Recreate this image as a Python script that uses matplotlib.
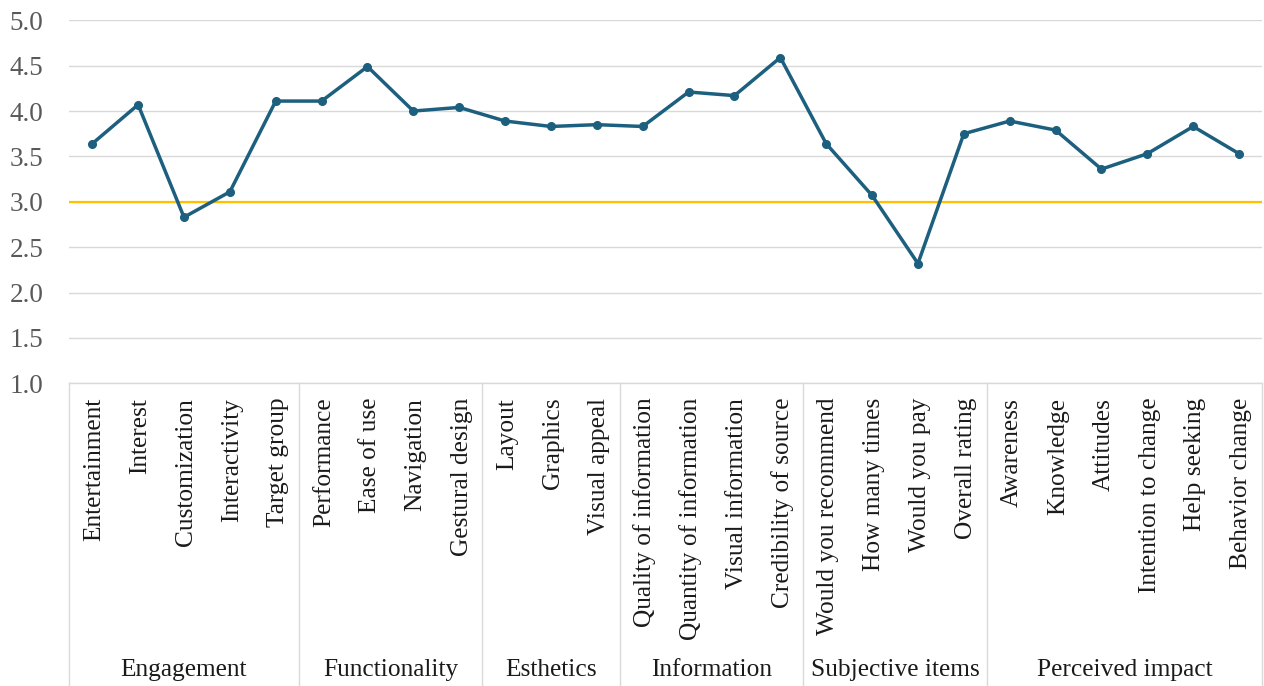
import matplotlib
matplotlib.use("Agg")
import matplotlib.pyplot as plt

plt.rcParams['font.family'] = ['Liberation Serif', 'DejaVu Serif']

# item labels along the x axis and their mean scores
items = ["Entertainment", "Interest", "Customization", "Interactivity", "Target group",
         "Performance", "Ease of use", "Navigation", "Gestural design",
         "Layout", "Graphics", "Visual appeal",
         "Quality of information", "Quantity of information", "Visual information",
         "Credibility of source",
         "Would you recommend", "How many times", "Would you pay", "Overall rating",
         "Awareness", "Knowledge", "Attitudes", "Intention to change", "Help seeking",
         "Behavior change"]
scores = [3.64, 4.07, 2.83, 3.11, 4.11,
          4.11, 4.49, 4.00, 4.04,
          3.89, 3.83, 3.85,
          3.83, 4.21, 4.17, 4.59,
          3.64, 3.07, 2.32, 3.75,
          3.89, 3.79, 3.36, 3.53, 3.83, 3.53]

# outer category groups and how many items each holds
groups = ["Engagement", "Functionality", "Esthetics", "Information",
          "Subjective items", "Perceived impact"]
group_sizes = [5, 4, 3, 4, 4, 6]

yticks = [1.0, 1.5, 2.0, 2.5, 3.0, 3.5, 4.0, 4.5, 5.0]
midpoint = 3.0

W, H = 1264, 686
fig = plt.figure(figsize=(W / 100, H / 100), dpi=100)
ax = fig.add_axes([69.3 / W, 1 - 383.3 / H, (1262 - 69.3) / W, (383.3 - 20.3) / H])

grid_col = '#d9d9d9'
n = len(items)
x = list(range(n))

ax.set_xlim(-0.5, n - 0.5)
ax.set_ylim(1.0, 5.0)
ax.set_yticks(yticks)
ax.set_yticklabels([f"{v:.1f}" for v in yticks])
ax.tick_params(axis='y', length=0, pad=18.5, labelsize=19.5, labelcolor='#595959')
ax.set_xticks([])
ax.yaxis.grid(True, color=grid_col, lw=1.0)
ax.set_axisbelow(True)
for s in ['top', 'right', 'left']:
    ax.spines[s].set_visible(False)
ax.spines['bottom'].set_color(grid_col)
ax.spines['bottom'].set_linewidth(1.0)

ax.axhline(midpoint, color='#ffc000', lw=1.6, zorder=2)
ax.plot(x, scores, color='#1d5f7e', lw=2.5, marker='o', markersize=5.5, zorder=3)

# category labels (rotated) and group labels below
trans = ax.get_xaxis_transform()
bottom = (383.3 - H) / (383.3 - 20.3)
for i, lab in enumerate(items):
    ax.text(i + 0.05, -0.04, lab, transform=trans, rotation=90, ha='center', va='top',
            fontsize=18.3, color='#1a1a1a')

edges = [0]
for g in group_sizes:
    edges.append(edges[-1] + g)
for e in edges:
    ax.plot([e - 0.5, e - 0.5], [0, bottom], transform=trans, color=grid_col,
            lw=1.0, clip_on=False)
for k, g in enumerate(groups):
    mid = (edges[k] + edges[k + 1] - 1) / 2
    ax.text(mid, (383.3 - 670) / (383.3 - 20.3), g, transform=trans,
            ha='center', va='center', fontsize=18.3, color='#1a1a1a')

fig.savefig("out.png", dpi=100)
